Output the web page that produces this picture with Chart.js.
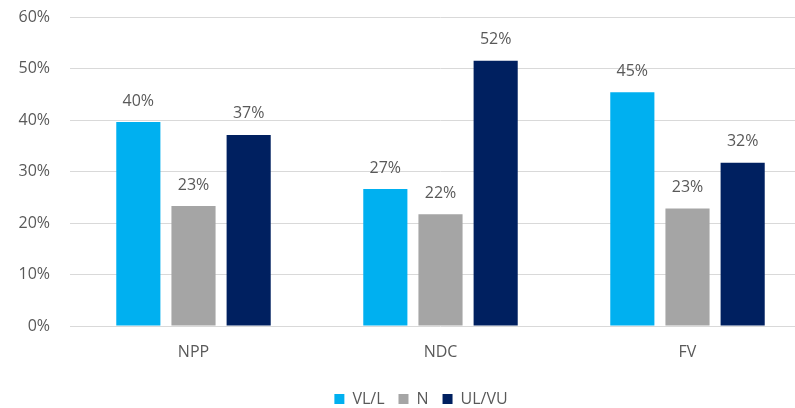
<!DOCTYPE html>
<html lang="en">
<head>
    <meta charset="UTF-8">
    <title>VL/L, N, UL/VU by party</title>
    <script src="https://cdn.jsdelivr.net/npm/chart.js"></script>
    <style>
        html, body {
            margin: 0;
            padding: 0;
            background: #ffffff;
            overflow: hidden;
        }
        .frame {
            width: 795px;
            height: 408px;
            overflow: hidden;
            position: relative;
        }
        .chart-box {
            width: 811px;
            height: 417px;
        }
    </style>
</head>
<body>
    <div class="frame">
        <div class="chart-box">
            <canvas id="barChart"></canvas>
        </div>
    </div>

    <script>
        // Values (percent)
        const categories = ['NPP', 'NDC', 'FV'];
        const seriesNames = ['VL/L', 'N', 'UL/VU'];
        const vlValues = [39.6, 26.6, 45.4];
        const nValues = [23.3, 21.7, 22.8];
        const ulValues = [37.1, 51.5, 31.7];
        const yTicks = [0, 10, 20, 30, 40, 50, 60];

        const textColor = '#595959';
        const fontFamily = '"Open Sans", "Noto Sans", sans-serif';

        // Percent labels above each bar
        const barLabels = {
            id: 'barLabels',
            afterDatasetsDraw(chart) {
                const ctx = chart.ctx;
                ctx.save();
                ctx.font = '16px ' + fontFamily;
                ctx.fillStyle = textColor;
                ctx.textAlign = 'center';
                ctx.textBaseline = 'middle';
                chart.data.datasets.forEach((ds, i) => {
                    chart.getDatasetMeta(i).data.forEach((bar, j) => {
                        ctx.fillText(Math.round(ds.data[j]) + '%', bar.x, bar.y - 21);
                    });
                });
                ctx.restore();
            }
        };

        // Excel centres the legend a bit right of the canvas middle
        const legendShift = {
            id: 'legendShift',
            afterLayout(chart) {
                if (chart.legend) chart.legend.left += 31;
            }
        };

        new Chart(document.getElementById('barChart'), {
            type: 'bar',
            data: {
                labels: categories,
                datasets: [{
                    label: seriesNames[0],
                    data: vlValues,
                    backgroundColor: '#00B0F0'
                }, {
                    label: seriesNames[1],
                    data: nValues,
                    backgroundColor: '#A5A5A5'
                }, {
                    label: seriesNames[2],
                    data: ulValues,
                    backgroundColor: '#002060'
                }]
            },
            options: {
                responsive: true,
                maintainAspectRatio: false,
                animation: false,
                categoryPercentage: 0.67,
                barPercentage: 0.8,
                layout: {
                    padding: { top: 17, left: 0, right: 0, bottom: 0 }
                },
                scales: {
                    x: {
                        offset: true,
                        grid: { display: false, drawTicks: false },
                        border: { display: false },
                        ticks: {
                            padding: 17,
                            color: textColor,
                            font: { family: fontFamily, size: 16 }
                        },
                        afterFit(scale) { scale.height = 51; }
                    },
                    y: {
                        min: 0,
                        max: 60,
                        afterBuildTicks(scale) {
                            scale.ticks = yTicks.map(v => ({ value: v }));
                        },
                        afterFit(scale) {
                            scale.width = 70;
                            scale.paddingTop = 8;
                            scale.paddingBottom = 0;
                        },
                        grid: { color: '#D9D9D9', lineWidth: 1, drawTicks: false },
                        border: { display: false },
                        ticks: {
                            padding: 20,
                            color: textColor,
                            font: { family: fontFamily, size: 16 },
                            callback: v => v + '%'
                        }
                    }
                },
                plugins: {
                    legend: {
                        position: 'bottom',
                        labels: {
                            boxWidth: 10,
                            boxHeight: 10,
                            padding: 14,
                            color: textColor,
                            font: { family: fontFamily, size: 16 }
                        }
                    },
                    tooltip: { enabled: false }
                }
            },
            plugins: [barLabels, legendShift]
        });
    </script>
</body>
</html>
